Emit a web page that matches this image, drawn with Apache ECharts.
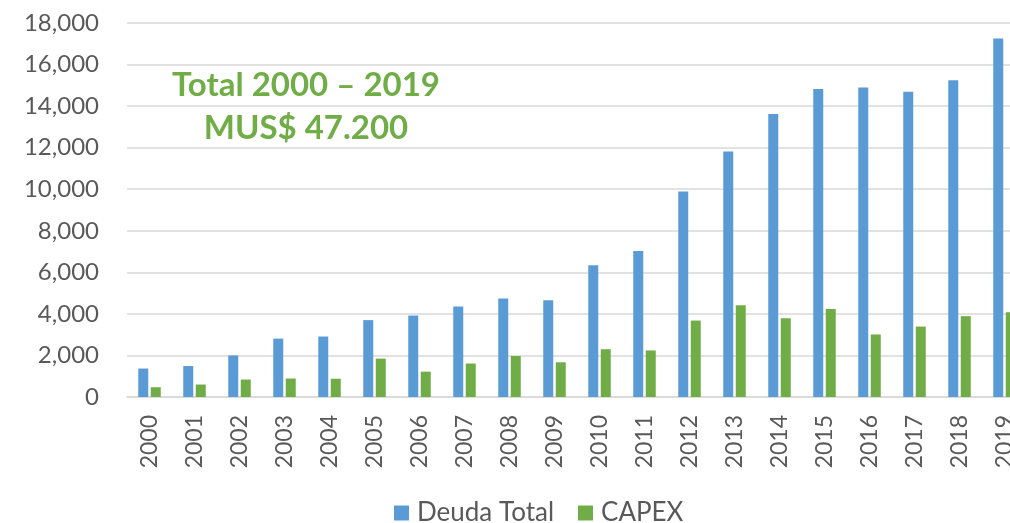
<!DOCTYPE html>
<html>
<head>
<meta charset="utf-8">
<script src="https://cdn.jsdelivr.net/npm/echarts@6/dist/echarts.min.js"></script>
<style>
  html, body { margin: 0; padding: 0; background: #fff; }
  #chart { width: 1010px; height: 523px; }
</style>
</head>
<body>
<div id="chart"></div>
<script>
// datos (MUS$)
var years = ['2000', '2001', '2002', '2003', '2004', '2005', '2006', '2007', '2008', '2009',
  '2010', '2011', '2012', '2013', '2014', '2015', '2016', '2017', '2018', '2019']
var deudaTotal = [1370, 1490, 2000, 2810, 2910, 3700, 3920, 4350, 4740, 4660,
  6340, 7030, 9890, 11820, 13620, 14820, 14900, 14690, 15240, 17250]
var capex = [470, 600, 840, 890, 880, 1850, 1220, 1610, 1975, 1670,
  2300, 2240, 3680, 4420, 3790, 4240, 3010, 3390, 3890, 4080]
var yTicks = [0, 2000, 4000, 6000, 8000, 10000, 12000, 14000, 16000, 18000]
var noteLines = ['Total 2000 \u2013 2019', 'MUS$ 47.200']

var font = 'Lato, "Open Sans", sans-serif'
var grey = '#595959'
var gridGrey = '#d9d9d9'

var myChart = echarts.init(document.getElementById('chart'))

myChart.setOption({
  animation: false,
  textStyle: { fontFamily: font },
  // el grafico original sale cortado a la derecha (2019)
  grid: { left: 127, top: 23, width: 900, height: 374, containLabel: false, outerBoundsMode: 'none' },
  legend: {
    data: ['Deuda Total', 'CAPEX'],
    left: 394,
    top: 500,
    padding: 0,
    icon: 'rect',
    itemWidth: 15,
    itemHeight: 15,
    itemGap: 24,
    textStyle: { fontSize: 26, color: grey, fontFamily: font, padding: [0, 0, 0, 3] }
  },
  xAxis: {
    type: 'category',
    data: years,
    axisLine: { lineStyle: { color: gridGrey, width: 1.5 } },
    axisTick: { show: false },
    axisLabel: { rotate: 90, fontSize: 23, color: grey, margin: 18, interval: 0 }
  },
  yAxis: {
    type: 'value',
    min: yTicks[0],
    max: yTicks[yTicks.length - 1],
    interval: 2000,
    axisLine: { show: false },
    axisTick: { show: false },
    splitLine: { lineStyle: { color: gridGrey, width: 1.5 } },
    axisLabel: {
      fontSize: 24,
      color: grey,
      margin: 28,
      formatter: function (v) { return v.toLocaleString('en-US') }
    }
  },
  graphic: [
    {
      type: 'text',
      x: 306,
      y: 85,
      style: {
        text: noteLines[0],
        fill: '#70ad47',
        font: 'bold 33px ' + font,
        align: 'center',
        verticalAlign: 'middle'
      }
    },
    {
      type: 'text',
      x: 306,
      y: 128,
      style: {
        text: noteLines[1],
        fill: '#70ad47',
        font: 'bold 33px ' + font,
        align: 'center',
        verticalAlign: 'middle'
      }
    }
  ],
  series: [
    {
      name: 'Deuda Total',
      type: 'bar',
      data: deudaTotal,
      barWidth: 10,
      barGap: '25%',
      itemStyle: { color: '#5b9bd5' }
    },
    {
      name: 'CAPEX',
      type: 'bar',
      data: capex,
      barWidth: 10,
      itemStyle: { color: '#70ad47' }
    }
  ]
})
</script>
</body>
</html>
